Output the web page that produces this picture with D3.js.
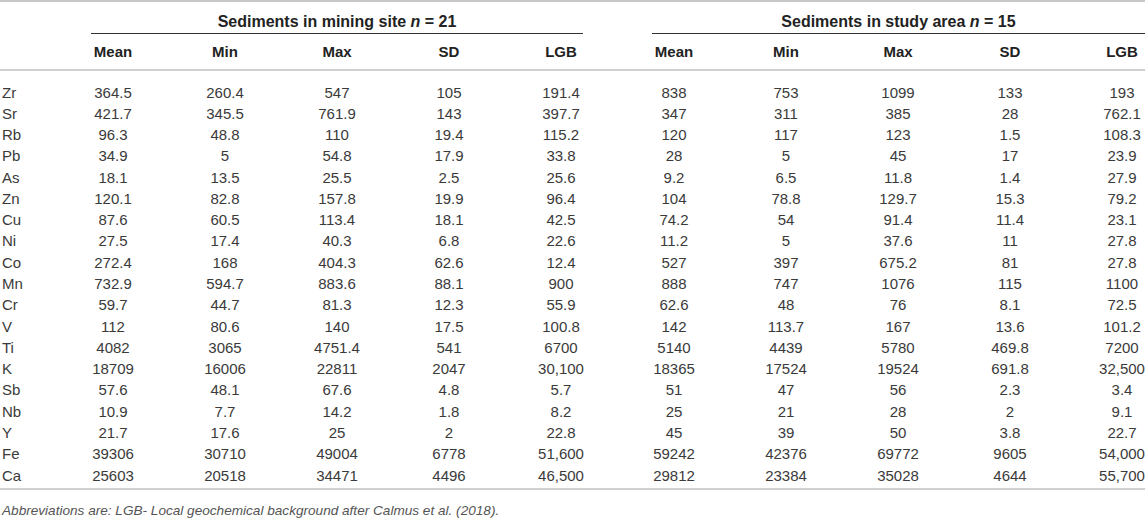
<!DOCTYPE html>
<html>
<head>
<meta charset="utf-8">
<script src="https://cdn.jsdelivr.net/npm/d3@7"></script>
<style>
  html, body { margin: 0; padding: 0; background: #fff; }
  svg { display: block; font-family: "Liberation Sans", Arial, Helvetica, sans-serif; }
</style>
</head>
<body>
<svg id="chart" width="1145" height="520"></svg>
<script>
const elements = ["Zr","Sr","Rb","Pb","As","Zn","Cu","Ni","Co","Mn","Cr","V","Ti","K","Sb","Nb","Y","Fe","Ca"];
const stats = ["Mean","Min","Max","SD","LGB"];

const miningMean = ["364.5","421.7","96.3","34.9","18.1","120.1","87.6","27.5","272.4","732.9","59.7","112","4082","18709","57.6","10.9","21.7","39306","25603"];
const miningMin  = ["260.4","345.5","48.8","5","13.5","82.8","60.5","17.4","168","594.7","44.7","80.6","3065","16006","48.1","7.7","17.6","30710","20518"];
const miningMax  = ["547","761.9","110","54.8","25.5","157.8","113.4","40.3","404.3","883.6","81.3","140","4751.4","22811","67.6","14.2","25","49004","34471"];
const miningSD   = ["105","143","19.4","17.9","2.5","19.9","18.1","6.8","62.6","88.1","12.3","17.5","541","2047","4.8","1.8","2","6778","4496"];
const miningLGB  = ["191.4","397.7","115.2","33.8","25.6","96.4","42.5","22.6","12.4","900","55.9","100.8","6700","30,100","5.7","8.2","22.8","51,600","46,500"];

const studyMean = ["838","347","120","28","9.2","104","74.2","11.2","527","888","62.6","142","5140","18365","51","25","45","59242","29812"];
const studyMin  = ["753","311","117","5","6.5","78.8","54","5","397","747","48","113.7","4439","17524","47","21","39","42376","23384"];
const studyMax  = ["1099","385","123","45","11.8","129.7","91.4","37.6","675.2","1076","76","167","5780","19524","56","28","50","69772","35028"];
const studySD   = ["133","28","1.5","17","1.4","15.3","11.4","11","81","115","8.1","13.6","469.8","691.8","2.3","2","3.8","9605","4644"];
const studyLGB  = ["193","762.1","108.3","23.9","27.9","79.2","23.1","27.8","27.8","1100","72.5","101.2","7200","32,500","3.4","9.1","22.7","54,000","55,700"];

const groups = [
  { prefix: "Sediments in mining site ", n: "21", cols: [miningMean, miningMin, miningMax, miningSD, miningLGB], range: [113, 561], line: [91, 583] },
  { prefix: "Sediments in study area ", n: "15", cols: [studyMean, studyMin, studyMax, studySD, studyLGB], range: [674, 1122], line: [652, 1145] }
];
const footnote = "Abbreviations are: LGB- Local geochemical background after Calmus et al. (2018).";

const W = 1145;
const svg = d3.select("#chart");

const y = d3.scalePoint().domain(elements).range([92, 475]);

// horizontal rules
svg.append("rect").attr("x", 0).attr("y", 0).attr("width", W).attr("height", 2).attr("fill", "#c8c8c8");
svg.append("rect").attr("x", 0).attr("y", 69).attr("width", W).attr("height", 2).attr("fill", "#d0d0d0");
svg.append("rect").attr("x", 0).attr("y", 488).attr("width", W).attr("height", 2).attr("fill", "#d0d0d0");

groups.forEach(g => {
  const x = d3.scalePoint().domain(stats).range(g.range);
  const cx = (g.line[0] + g.line[1]) / 2;
  const t = svg.append("text").attr("x", cx).attr("y", 27)
    .attr("text-anchor", "middle").attr("font-size", 16).attr("font-weight", "bold").attr("fill", "#222");
  t.append("tspan").text(g.prefix);
  t.append("tspan").attr("font-style", "italic").text("n");
  t.append("tspan").text(" = " + g.n);

  svg.append("line").attr("x1", g.line[0]).attr("x2", g.line[1]).attr("y1", 33.5).attr("y2", 33.5)
    .attr("stroke", "#333").attr("stroke-width", 1.2);

  svg.selectAll(null).data(stats).enter().append("text")
    .attr("x", d => x(d)).attr("y", 57)
    .attr("text-anchor", "middle").attr("font-size", 15).attr("font-weight", "bold").attr("fill", "#222")
    .text(d => d);

  g.cols.forEach((col, ci) => {
    svg.selectAll(null).data(col).enter().append("text")
      .attr("x", x(stats[ci]))
      .attr("y", (d, i) => y(elements[i]) + 5.5)
      .attr("text-anchor", "middle").attr("font-size", 15).attr("fill", "#3a3a3a")
      .text(d => d);
  });
});

svg.selectAll(null).data(elements).enter().append("text")
  .attr("x", 2).attr("y", d => y(d) + 5.5)
  .attr("font-size", 15).attr("fill", "#3a3a3a")
  .text(d => d);

svg.append("text").attr("x", 2).attr("y", 515)
  .attr("font-size", 13.6).attr("font-style", "italic").attr("fill", "#555")
  .text(footnote);
</script>
</body>
</html>
